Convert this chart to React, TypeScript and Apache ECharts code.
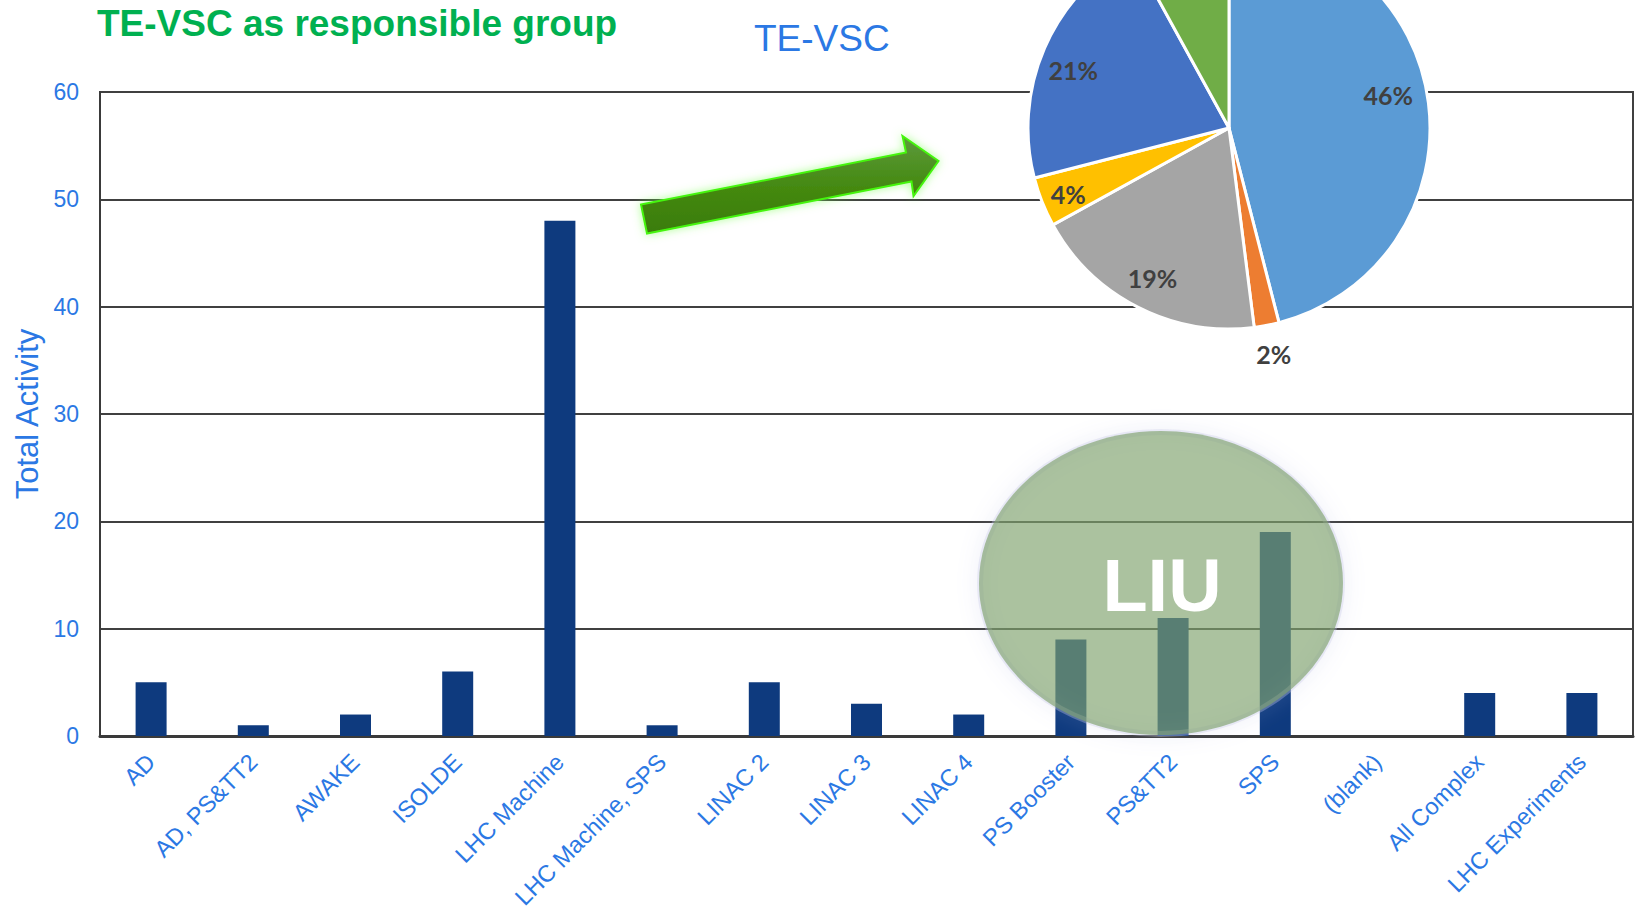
import React, { useEffect, useRef } from 'react';
import * as echarts from 'echarts';

const categories = [
  'AD',
  'AD, PS&TT2',
  'AWAKE',
  'ISOLDE',
  'LHC Machine',
  'LHC Machine, SPS',
  'LINAC 2',
  'LINAC 3',
  'LINAC 4',
  'PS Booster',
  'PS&TT2',
  'SPS',
  '(blank)',
  'All Complex',
  'LHC Experiments',
];
const activity = [5, 1, 2, 6, 48, 1, 5, 3, 2, 9, 11, 19, 0, 4, 4];

const yMin = 0;
const yMax = 60;
const yStep = 10;

const pieNames = ['Share A', 'Share B', 'Share C', 'Share D', 'Share E', 'Share F'];
const pieShares = [46, 2, 19, 4, 21, 8];
const pieColors = ['#5B9BD5', '#ED7D31', '#A5A5A5', '#FFC000', '#4472C4', '#70AD47'];
// where each slice's percentage label sits: inside ring, outside ring, or not shown (off page)
const pieLabelPlace = ['in', 'out', 'in', 'in', 'in', 'none'];
// small nudges of the percentage labels (px), as the source places them
const pieLabelNudge = [
  [-8, -12],
  [1, -4],
  [0, 0],
  [-4, 4],
  [-1, 9],
  [0, 0],
];

const mainTitle = 'TE-VSC as responsible group';
const pieTitle = 'TE-VSC';
const yName = 'Total Activity';
const bubbleText = 'LIU';

const BLUE = '#2B78E4';
const FONT = '"Liberation Sans", Arial, sans-serif';

export default function App() {
  const ref = useRef<HTMLDivElement>(null);

  useEffect(() => {
    if (!ref.current) return;
    const chart = echarts.init(ref.current, null, { renderer: 'svg' });

    const pieCenter = [1229, 128];
    const pieData = pieShares.map((v, i) => ({
      name: pieNames[i],
      value: v,
      itemStyle: { color: pieColors[i] },
    }));
    const labelStyle = {
      position: 'inside',
      formatter: '{c}%',
      color: '#404040',
      fontSize: 25,
      fontWeight: 'bold',
      fontFamily: 'Lato, "Liberation Sans", sans-serif',
    };
    const labelData = (which: string) =>
      pieShares.map((v, i) => ({
        name: pieNames[i],
        value: v,
        itemStyle: { color: 'rgba(0,0,0,0)', borderWidth: 0 },
        label: { show: pieLabelPlace[i] === which },
      }));
    const nudge = (p: any) => ({
      dx: pieLabelNudge[p.dataIndex][0],
      dy: pieLabelNudge[p.dataIndex][1],
    });

    const option: any = {
      animation: false,
      backgroundColor: '#ffffff',
      title: [
        {
          text: mainTitle,
          left: 92,
          top: 0,
          textStyle: { color: '#00B050', fontSize: 37, fontWeight: 'bold', fontFamily: FONT },
        },
        {
          text: pieTitle,
          left: 749,
          top: 15,
          textStyle: { color: BLUE, fontSize: 37, fontWeight: 'normal', fontFamily: FONT },
        },
      ],
      grid: {
        left: 100,
        right: 3,
        top: 92,
        bottom: 178,
        containLabel: false,
        outerBoundsMode: 'none',
        show: true,
        borderColor: '#404040',
        borderWidth: 2,
        backgroundColor: 'rgba(0,0,0,0)',
      },
      xAxis: {
        type: 'category',
        data: categories,
        boundaryGap: true,
        axisLine: { show: true, lineStyle: { color: '#3a3a3a', width: 3 } },
        axisTick: { show: false },
        axisLabel: {
          interval: 0,
          rotate: 45,
          color: BLUE,
          fontSize: 23.5,
          margin: 22,
          fontFamily: FONT,
        },
      },
      yAxis: {
        type: 'value',
        min: yMin,
        max: yMax,
        interval: yStep,
        name: yName,
        nameLocation: 'middle',
        nameGap: 57,
        nameTextStyle: { color: BLUE, fontSize: 31, fontFamily: FONT },
        axisLine: { show: true, lineStyle: { color: '#3a3a3a', width: 2 } },
        axisTick: { show: false },
        axisLabel: { color: BLUE, fontSize: 23, margin: 21, fontFamily: FONT },
        splitLine: { show: true, lineStyle: { color: '#404040', width: 2 } },
      },
      series: [
        {
          type: 'bar',
          data: activity,
          barWidth: 31,
          itemStyle: { color: '#0E3A7E' },
          z: 2,
        },
        {
          type: 'pie',
          center: pieCenter,
          radius: [0, 201],
          startAngle: 90,
          clockwise: true,
          silent: true,
          avoidLabelOverlap: false,
          data: pieData,
          itemStyle: { borderColor: '#ffffff', borderWidth: 3 },
          label: { show: false },
          labelLine: { show: false },
          z: 5,
        },
        {
          type: 'pie',
          center: pieCenter,
          radius: [130, 201],
          startAngle: 90,
          clockwise: true,
          silent: true,
          avoidLabelOverlap: false,
          data: labelData('in'),
          label: labelStyle,
          labelLine: { show: false },
          labelLayout: nudge,
          z: 6,
        },
        {
          type: 'pie',
          center: pieCenter,
          radius: [201, 261],
          startAngle: 90,
          clockwise: true,
          silent: true,
          avoidLabelOverlap: false,
          data: labelData('out'),
          label: labelStyle,
          labelLine: { show: false },
          labelLayout: nudge,
          z: 6,
        },
      ],
      graphic: [
        {
          type: 'polygon',
          z: 50,
          shape: {
            points: [
              [641, 204.5],
              [906, 152.5],
              [902.5, 136],
              [938.5, 161],
              [913.5, 196],
              [911.5, 181.5],
              [647, 233.5],
            ],
          },
          style: {
            fill: new echarts.graphic.LinearGradient(0, 0, 0, 1, [
              { offset: 0, color: '#5E9A3E' },
              { offset: 0.5, color: '#458A12' },
              { offset: 1, color: '#3A7C06' },
            ]),
            stroke: '#45F50A',
            lineWidth: 2,
            shadowBlur: 10,
            shadowColor: 'rgba(120,255,80,0.6)',
          },
        },
        {
          type: 'ellipse',
          z: 99,
          shape: { cx: 1161, cy: 583, rx: 181, ry: 151 },
          style: {
            fill: 'none',
            stroke: 'rgba(200,204,232,0.35)',
            lineWidth: 6,
            shadowBlur: 18,
            shadowColor: 'rgba(165,172,218,0.9)',
          },
        },
        {
          type: 'ellipse',
          z: 100,
          shape: { cx: 1161, cy: 583, rx: 182, ry: 152 },
          style: {
            fill: 'rgba(128,163,110,0.66)',
          },
        },
        {
          type: 'text',
          z: 101,
          x: 1162,
          y: 585,
          style: {
            text: bubbleText,
            fill: '#ffffff',
            fontSize: 74,
            fontWeight: 'bold',
            fontFamily: FONT,
            textAlign: 'center',
            textVerticalAlign: 'middle',
            align: 'center',
            verticalAlign: 'middle',
          },
        },
      ],
    };

    chart.setOption(option);
    return () => chart.dispose();
  }, []);

  return (
    <div
      ref={ref}
      style={{ position: 'fixed', left: 0, top: 0, width: 1636, height: 914, background: '#ffffff' }}
    />
  );
}
